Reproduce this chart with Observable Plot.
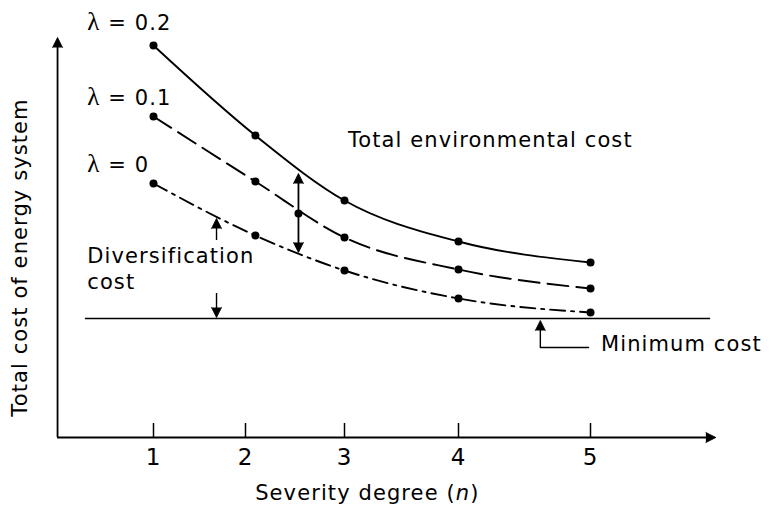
<!DOCTYPE html>
<html><head><meta charset="utf-8">
<script src="https://cdn.jsdelivr.net/npm/d3@7"></script>
<script src="https://cdn.jsdelivr.net/npm/@observablehq/plot@0.6"></script>
<style>body{margin:0;background:#fff}</style>
</head><body><div id="chart"></div>
<script>
// ---- data ----
const severity = [1, 2.1, 3, 4, 5];
const cost02 = [98, 75.5, 59.25, 49, 43.75];   // λ = 0.2 (solid)
const cost01 = [80.25, 64, 50, 42, 37.25];     // λ = 0.1 (dashed)
const cost00 = [63.5, 50.5, 41.75, 34.75, 31.25]; // λ = 0 (dash-dot)
const seriesNames = ["λ = 0.2", "λ = 0.1", "λ = 0"];
const minimumCost = 29.75;
const xTicks = [1, 2, 3, 4, 5];

// annotation anchors (data units)
const labelText = ["λ = 0.2", "λ = 0.1", "λ = 0", "Total environmental cost", "Diversification", "cost", "Minimum cost"];
const labelX = [0.28, 0.28, 0.28, 3.03, 0.28, 0.28, 5.08];
const labelY = [103.6, 84.9, 68, 74.4, 45.3, 38.8, 23.2];

const gapX = 2.535, gapTop = 66, gapMid = 56, gapBottom = 46.25;
const divX = 1.685, divUpFrom = 49.25, divUpTip = 54.75, divDownFrom = 36, divDownTip = 30;
const minArrowX = 4.62, minArrowTip = 29.25, minElbowY = 22.5, minElbowX = 4.985;
const axisX0 = -0.043, axisX1 = 5.95, axisYTop = 100;
const lineX0 = 0.26, lineX1 = 5.91;

// ---- build table ----
const rows = [];
[cost02, cost01, cost00].forEach((arr, k) =>
  arr.forEach((v, i) => rows.push({series: seriesNames[k], n: severity[i], cost: v})));
const s02 = rows.filter(d => d.series === seriesNames[0]);
const s01 = rows.filter(d => d.series === seriesNames[1]);
const s00 = rows.filter(d => d.series === seriesNames[2]);

const arrowHeads = [
  {x: axisX0, y: axisYTop, rotate: 0},
  {x: axisX1, y: 0, rotate: 90},
  {x: gapX, y: gapTop, rotate: 0},
  {x: gapX, y: gapBottom, rotate: 180},
  {x: divX, y: divUpTip, rotate: 0},
  {x: divX, y: divDownTip, rotate: 180},
  {x: minArrowX, y: minArrowTip, rotate: 0}
];
const labels = labelText.map((t, i) => ({t, x: labelX[i], y: labelY[i]}));

const plot = Plot.plot({
  width: 771,
  height: 509,
  margin: 0,
  style: {fontFamily: "'DejaVu Sans', sans-serif", fontSize: "21px", letterSpacing: "1.1px", background: "#fff", color: "#000"},
  x: {type: "linear", domain: xTicks, range: [153, 245, 344, 458, 590], axis: null},
  y: {domain: [0, 100], range: [437, 37], axis: null},
  marks: [
    // axes
    Plot.ruleY([0], {x1: axisX0, x2: axisX1 - 0.05, strokeWidth: 1.8}),
    Plot.ruleX([axisX0], {y1: 0, y2: axisYTop - 1.5, strokeWidth: 1.8}),
    Plot.ruleX(xTicks, {y1: 0, y2: 3.5, strokeWidth: 1.5}),
    Plot.text(xTicks, {x: d => d, y: -5, text: d => String(d), fontSize: 23}),
    Plot.text(["Severity degree (n)"], {x: 3.2, y: -13.9, text: d => d, textAnchor: "middle"}),
    Plot.text(["Total cost of energy system"], {x: -0.451, y: 45, text: d => d, rotate: -90, textAnchor: "middle"}),
    // minimum cost line
    Plot.ruleY([minimumCost], {x1: lineX0, x2: lineX1, strokeWidth: 1.5}),
    // curves
    Plot.line(s02, {x: "n", y: "cost", curve: "monotone-x", strokeWidth: 1.9}),
    Plot.line(s01, {x: "n", y: "cost", curve: "monotone-x", strokeWidth: 1.9, strokeDasharray: "21,8"}),
    Plot.line(s00, {x: "n", y: "cost", curve: "monotone-x", strokeWidth: 1.9, strokeDasharray: "15,6,3,6"}),
    Plot.dot(rows, {x: "n", y: "cost", r: 4, fill: "black"}),
    // double arrow (environmental gap)
    Plot.ruleX([gapX], {y1: gapBottom + 1, y2: gapTop - 1, strokeWidth: 1.8}),
    Plot.dot([gapMid], {x: gapX, y: d => d, r: 4, fill: "black"}),
    // diversification arrows
    Plot.ruleX([divX], {y1: divUpFrom, y2: divUpTip - 1, strokeWidth: 1.4}),
    Plot.ruleX([divX], {y1: divDownFrom, y2: divDownTip + 1, strokeWidth: 1.4}),
    // minimum cost pointer
    Plot.line([[minArrowX, minArrowTip - 1], [minArrowX, minElbowY], [minElbowX, minElbowY]], {x: d => d[0], y: d => d[1], strokeWidth: 1.4}),
    // arrowheads
    Plot.vector(arrowHeads, {x: "x", y: "y", rotate: "rotate", shape: "spike", length: 10, r: 5, anchor: "end", fill: "black", stroke: "black", strokeWidth: 0.8}),
    // labels
    Plot.text(labels, {x: "x", y: "y", text: "t", textAnchor: "start"})
  ]
});

// typographic touches: serif lambda, italic n
d3.select(plot).selectAll("text").each(function() {
  const el = d3.select(this);
  const t = el.text();
  if (t.startsWith("λ")) {
    el.text(null);
    el.append("tspan").attr("font-family", "'Liberation Serif', serif").attr("font-size", "25px").text("λ");
    el.append("tspan").text(t.slice(1));
  } else if (t === "Severity degree (n)") {
    el.text(null);
    el.append("tspan").text("Severity degree (");
    el.append("tspan").attr("font-style", "italic").text("n");
    el.append("tspan").text(")");
  }
});
document.getElementById("chart").appendChild(plot);
</script>
</body></html>
